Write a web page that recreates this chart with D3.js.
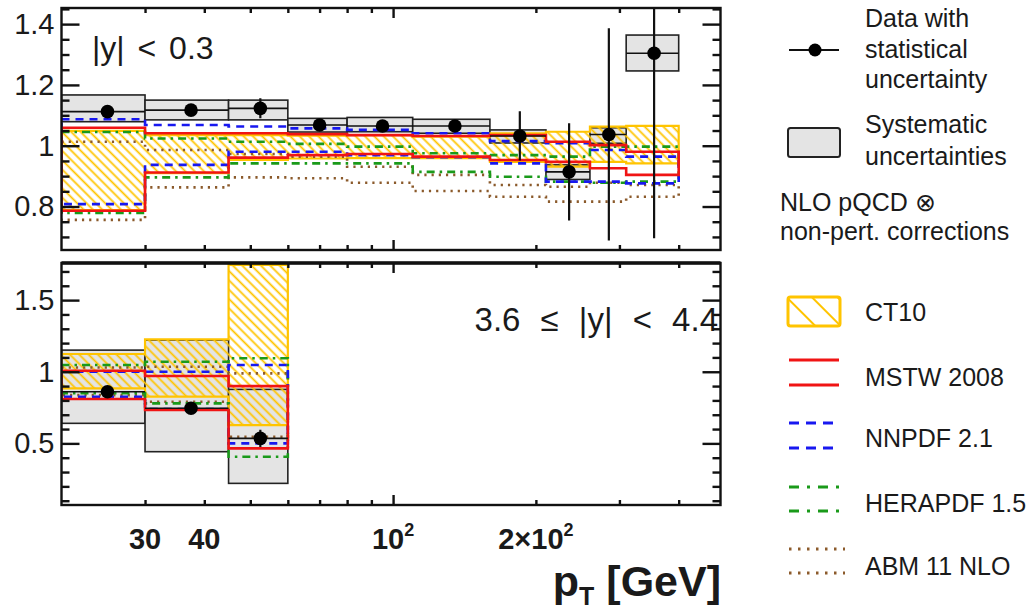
<!DOCTYPE html>
<html>
<head>
<meta charset="utf-8">
<script src="https://cdn.jsdelivr.net/npm/d3@7"></script>
<style>
  body { margin: 0; background: #fff; }
  svg { display: block; }
  text { font-family: "Liberation Sans", Arial, Helvetica, sans-serif; fill: #1a1a1a; }
</style>
</head>
<body>
<svg id="chart" width="1032" height="614"></svg>
<script>
// ---- pT binning (GeV) ----
const ptEdgesCentral = [20, 30, 45, 60, 80, 110, 160, 210, 260, 310, 400];
const ptCentersCentral = [25, 37.5, 52.5, 70, 95, 135, 185, 235, 285, 355];
const ptEdgesForward = [20, 30, 45, 60];
const ptCentersForward = [25, 37.5, 52.5];

// ---- |y| < 0.3 : ratio values ----
const dataCentral   = [1.112, 1.117, 1.123, 1.068, 1.065, 1.065, 1.032, 0.914, 1.037, 1.304];
const statCentral   = [0.010, 0.010, 0.033, 0.012, 0.012, 0.014, 0.081, 0.160, 0.349, 0.608];
const sysHiCentral  = [1.167, 1.150, 1.150, 1.090, 1.093, 1.087, 1.052, 0.937, 1.059, 1.364];
const sysLoCentral  = [1.079, 1.085, 1.085, 1.045, 1.046, 1.041, 1.009, 0.889, 1.008, 1.246];
const ct10HiCentral  = [1.049, 1.035, 1.035, 1.033, 1.035, 1.030, 1.041, 1.046, 1.063, 1.065];
const ct10LoCentral  = [0.788, 0.910, 0.953, 0.958, 0.959, 0.959, 0.947, 0.931, 0.947, 0.942];
const mstwHiCentral  = [1.059, 1.041, 1.041, 1.038, 1.035, 1.032, 1.035, 1.013, 1.002, 0.980];
const mstwLoCentral  = [0.786, 0.912, 0.961, 0.969, 0.973, 0.964, 0.953, 0.947, 0.926, 0.904];
const nnpdfHiCentral = [1.087, 1.068, 1.063, 1.057, 1.052, 1.041, 1.015, 1.008, 0.986, 0.964];
const nnpdfLoCentral = [0.808, 0.937, 0.980, 0.980, 0.969, 0.962, 0.942, 0.882, 0.882, 0.876];
const heraHiCentral  = [1.045, 1.024, 1.013, 1.006, 0.997, 0.975, 0.969, 0.964, 0.997, 0.997];
const heraLoCentral  = [0.779, 0.896, 0.942, 0.942, 0.942, 0.914, 0.898, 0.882, 0.878, 0.882];
const abmHiCentral   = [1.013, 0.986, 0.973, 0.964, 0.931, 0.904, 0.871, 0.865, 0.878, 0.871];
const abmLoCentral   = [0.756, 0.863, 0.896, 0.893, 0.878, 0.851, 0.832, 0.816, 0.816, 0.832];

// ---- 3.6 <= |y| < 4.4 : ratio values ----
const dataForward   = [0.860, 0.745, 0.535];
const statForward   = [0.020, 0.020, 0.060];
const sysHiForward  = [1.151, 1.221, 0.877];
const sysLoForward  = [0.640, 0.442, 0.221];
const ct10HiForward  = [1.124, 1.226, 1.745];
const ct10LoForward  = [0.884, 0.826, 0.628];
const mstwHiForward  = [1.007, 0.970, 0.900];
const mstwLoForward  = [0.810, 0.733, 0.465];
const nnpdfHiForward = [1.000, 1.000, 1.047];
const nnpdfLoForward = [0.826, 0.740, 0.500];
const heraHiForward  = [1.047, 1.070, 1.094];
const heraLoForward  = [0.851, 0.779, 0.407];
const abmHiForward   = [1.030, 1.035, 0.989];
const abmLoForward   = [0.837, 0.791, 0.546];

// ---- axis ticks ----
const xMinorTicks = [30, 40, 50, 60, 70, 80, 90, 200, 300, 400];
const xMajorTicks = [100];
const yTopMajor = [0.8, 1, 1.2, 1.4];
const yTopMinor = [0.7, 0.75, 0.85, 0.9, 0.95, 1.05, 1.1, 1.15, 1.25, 1.3, 1.35, 1.45];
const yBotMajor = [0.5, 1, 1.5];
const yBotMinor = [0.1, 0.2, 0.3, 0.4, 0.6, 0.7, 0.8, 0.9, 1.1, 1.2, 1.3, 1.4, 1.6, 1.7];

// ---- styles ----
const COL = { ct10: "#ffc400", mstw: "#f01414", nnpdf: "#1818f0", hera: "#1a9a1a", abm: "#8b5a2b" };

const svg = d3.select("#chart");
const x = d3.scaleLog().domain([20, 490]).range([61.5, 720.5]);
const yTop = d3.scaleLinear().domain([0.657, 1.453]).range([250, 8]);
const yBot = d3.scaleLinear().domain([0.07, 1.759]).range([505, 263]);

const defs = svg.append("defs");
defs.append("pattern").attr("id", "hatch").attr("patternUnits", "userSpaceOnUse")
  .attr("width", 6.6).attr("height", 6.6).attr("patternTransform", "rotate(-45)")
  .append("line").attr("x1", 3.3).attr("y1", -1).attr("x2", 3.3).attr("y2", 8)
  .attr("stroke", COL.ct10).attr("stroke-width", 1.8);
defs.append("pattern").attr("id", "hatchLegend").attr("patternUnits", "userSpaceOnUse")
  .attr("x", 787).attr("y", 297)
  .attr("width", 18).attr("height", 18).attr("patternTransform", "rotate(-45)")
  .append("line").attr("x1", 9).attr("y1", -1).attr("x2", 9).attr("y2", 20)
  .attr("stroke", COL.ct10).attr("stroke-width", 2);

function stepPts(edges, vals, y) {
  const pts = [];
  vals.forEach((v, i) => { pts.push([x(edges[i]), y(v)]); pts.push([x(edges[i + 1]), y(v)]); });
  return pts;
}
function bandPath(edges, hi, lo, y) {
  return d3.line()(stepPts(edges, hi, y).concat(stepPts(edges, lo, y).reverse())) + "Z";
}

function drawPanel(id, y, top, bottom, edges, centers, d) {
  const [x0, x1] = x.range();
  defs.append("clipPath").attr("id", id).append("rect")
    .attr("x", x0).attr("y", top).attr("width", x1 - x0).attr("height", bottom - top);
  const g = svg.append("g").attr("clip-path", `url(#${id})`);

  // systematic uncertainty boxes
  g.selectAll("rect.sys").data(d.sysHi).join("rect").attr("class", "sys")
    .attr("x", (v, i) => x(edges[i])).attr("width", (v, i) => x(edges[i + 1]) - x(edges[i]))
    .attr("y", (v, i) => y(v)).attr("height", (v, i) => y(d.sysLo[i]) - y(v))
    .attr("fill", "#e4e4e4").attr("stroke", "#222").attr("stroke-width", 1.6);

  // CT10 hatched band
  g.append("path").attr("d", bandPath(edges, d.ct10Hi, d.ct10Lo, y))
    .attr("fill", "url(#hatch)").attr("stroke", COL.ct10).attr("stroke-width", 2.2);

  const lines = [
    ["abm", d.abmHi, d.abmLo, "2.2 5"],
    ["hera", d.heraHi, d.heraLo, "8 5 2.5 5"],
    ["nnpdf", d.nnpdfHi, d.nnpdfLo, "8 6"],
    ["mstw", d.mstwHi, d.mstwLo, null]
  ];
  lines.forEach(([k, hi, lo, dash]) => {
    g.append("path").attr("d", bandPath(edges, hi, lo, y))
      .attr("fill", "none").attr("stroke", COL[k]).attr("stroke-width", 2.6)
      .attr("stroke-dasharray", dash);
  });

  // data points with bin width and statistical error
  const pts = g.append("g");
  d.data.forEach((v, i) => {
    pts.append("line").attr("x1", x(edges[i])).attr("x2", x(edges[i + 1]))
      .attr("y1", y(v)).attr("y2", y(v)).attr("stroke", "#111").attr("stroke-width", 1.6);
    pts.append("line").attr("x1", x(centers[i])).attr("x2", x(centers[i]))
      .attr("y1", y(v + d.stat[i])).attr("y2", y(v - d.stat[i]))
      .attr("stroke", "#111").attr("stroke-width", 2.2);
    pts.append("circle").attr("cx", x(centers[i])).attr("cy", y(v)).attr("r", 6.8).attr("fill", "#000");
  });

  // axes: ticks inward on all four sides
  const ax = svg.append("g").attr("class", "axes");
  const noDomain = s => s.call(a => a.select(".domain").remove());
  ax.append("g").attr("transform", `translate(${x0},0)`)
    .call(d3.axisLeft(y).tickValues(d.yMajor).tickSize(-18).tickPadding(7).tickFormat(d3.format("")))
    .call(noDomain).call(s => s.selectAll("text").attr("font-size", 29).attr("font-family", null).attr("fill", "#1a1a1a"));
  ax.append("g").attr("transform", `translate(${x0},0)`)
    .call(d3.axisLeft(y).tickValues(d.yMinor).tickSize(-8).tickFormat("")).call(noDomain);
  ax.append("g").attr("transform", `translate(${x1},0)`)
    .call(d3.axisRight(y).tickValues(d.yMajor).tickSize(-18).tickFormat("")).call(noDomain);
  ax.append("g").attr("transform", `translate(${x1},0)`)
    .call(d3.axisRight(y).tickValues(d.yMinor).tickSize(-8).tickFormat("")).call(noDomain);
  ax.append("g").attr("transform", `translate(0,${top})`)
    .call(d3.axisTop(x).tickValues(xMinorTicks).tickSize(-5).tickFormat("")).call(noDomain);
  ax.append("g").attr("transform", `translate(0,${top})`)
    .call(d3.axisTop(x).tickValues(xMajorTicks).tickSize(-10).tickFormat("")).call(noDomain);
  ax.append("g").attr("transform", `translate(0,${bottom})`)
    .call(d3.axisBottom(x).tickValues(xMinorTicks).tickSize(-5).tickFormat("")).call(noDomain);
  ax.append("g").attr("transform", `translate(0,${bottom})`)
    .call(d3.axisBottom(x).tickValues(xMajorTicks).tickSize(-10).tickFormat("")).call(noDomain);
  ax.selectAll(".tick line").attr("stroke", "#111").attr("stroke-width", 2.4);

  // frame
  svg.append("rect").attr("x", x0).attr("y", top).attr("width", x1 - x0).attr("height", bottom - top)
    .attr("fill", "none").attr("stroke", "#111").attr("stroke-width", 2.4);
}

drawPanel("clipTop", yTop, 8, 250, ptEdgesCentral, ptCentersCentral, {
  data: dataCentral, stat: statCentral, sysHi: sysHiCentral, sysLo: sysLoCentral,
  ct10Hi: ct10HiCentral, ct10Lo: ct10LoCentral, mstwHi: mstwHiCentral, mstwLo: mstwLoCentral,
  nnpdfHi: nnpdfHiCentral, nnpdfLo: nnpdfLoCentral, heraHi: heraHiCentral, heraLo: heraLoCentral,
  abmHi: abmHiCentral, abmLo: abmLoCentral, yMajor: yTopMajor, yMinor: yTopMinor
});
drawPanel("clipBot", yBot, 263, 505, ptEdgesForward, ptCentersForward, {
  data: dataForward, stat: statForward, sysHi: sysHiForward, sysLo: sysLoForward,
  ct10Hi: ct10HiForward, ct10Lo: ct10LoForward, mstwHi: mstwHiForward, mstwLo: mstwLoForward,
  nnpdfHi: nnpdfHiForward, nnpdfLo: nnpdfLoForward, heraHi: heraHiForward, heraLo: heraLoForward,
  abmHi: abmHiForward, abmLo: abmLoForward, yMajor: yBotMajor, yMinor: yBotMinor
});
// thicker separator on top of the lower panel
svg.append("line").attr("x1", x.range()[0]).attr("x2", x.range()[1]).attr("y1", 263).attr("y2", 263)
  .attr("stroke", "#111").attr("stroke-width", 3.4);

// rapidity labels
svg.append("text").attr("x", 92).attr("y", 59).attr("font-size", 32)
  .style("word-spacing", "4px").text("|y| < 0.3");
svg.append("text").attr("x", 718).attr("y", 331).attr("font-size", 33).attr("text-anchor", "end")
  .style("word-spacing", "11px").text("3.6 \u2264 |y| < 4.4");

// x tick labels
const xLabels = [[30, "30", null], [40, "40", null], [100, "10", "2"], [200, "2\u00d710", "2"]];
xLabels.forEach(([v, base, sup]) => {
  const t = svg.append("text").attr("x", x(v)).attr("y", 549).attr("font-size", 29)
    .attr("font-weight", "bold").attr("text-anchor", "middle");
  t.append("tspan").text(base);
  if (sup) t.append("tspan").attr("dy", -13).attr("font-size", 18).text(sup);
});

// x axis title
const xt = svg.append("text").attr("x", 721).attr("y", 596).attr("font-size", 43)
  .attr("font-weight", "bold").attr("text-anchor", "end");
xt.append("tspan").text("p");
xt.append("tspan").attr("dy", 9).attr("font-size", 25).text("T");
xt.append("tspan").attr("dy", -9).text(" [GeV]");

// ---- legend ----
const lg = svg.append("g");
const lx0 = 789, lx1 = 839, tx = 865, fs = 25;
lg.append("line").attr("x1", lx0).attr("x2", lx1).attr("y1", 50).attr("y2", 50).attr("stroke", "#111").attr("stroke-width", 2);
lg.append("circle").attr("cx", 815).attr("cy", 50).attr("r", 6.5).attr("fill", "#000");
[["Data with", 27], ["statistical", 58], ["uncertainty", 88]].forEach(([s, yy]) =>
  lg.append("text").attr("x", tx).attr("y", yy).attr("font-size", fs).text(s));

lg.append("rect").attr("x", 788).attr("y", 128).attr("width", 52).attr("height", 29).attr("rx", 2.5)
  .attr("fill", "#e4e4e4").attr("stroke", "#222").attr("stroke-width", 2);
[["Systematic", 133], ["uncertainties", 165]].forEach(([s, yy]) =>
  lg.append("text").attr("x", tx).attr("y", yy).attr("font-size", fs).text(s));

lg.append("text").attr("x", 780).attr("y", 211).attr("font-size", fs).text("NLO pQCD \u2297");
lg.append("text").attr("x", 780).attr("y", 240).attr("font-size", fs).text("non-pert. corrections");

lg.append("rect").attr("x", 788).attr("y", 297).attr("width", 52).attr("height", 29).attr("rx", 2.5)
  .attr("fill", "url(#hatchLegend)").attr("stroke", COL.ct10).attr("stroke-width", 3);
lg.append("text").attr("x", tx).attr("y", 321).attr("font-size", fs).text("CT10");

const legendLines = [
  ["mstw", "MSTW 2008", 360, 385, 386, null],
  ["nnpdf", "NNPDF 2.1", 423, 448, 447, "10 7"],
  ["hera", "HERAPDF 1.5", 487, 511, 512, "10 8 3 8"],
  ["abm", "ABM 11 NLO", 549, 573, 575, "2.5 6.5"]
];
legendLines.forEach(([k, label, ya, yb, ty, dash]) => {
  [ya, yb].forEach(yy => lg.append("line").attr("x1", lx0).attr("x2", k === "abm" ? lx1 + 6 : lx1)
    .attr("y1", yy).attr("y2", yy).attr("stroke", COL[k]).attr("stroke-width", 3.2)
    .attr("stroke-dasharray", dash));
  lg.append("text").attr("x", tx).attr("y", ty).attr("font-size", fs).text(label);
});
</script>
</body>
</html>
